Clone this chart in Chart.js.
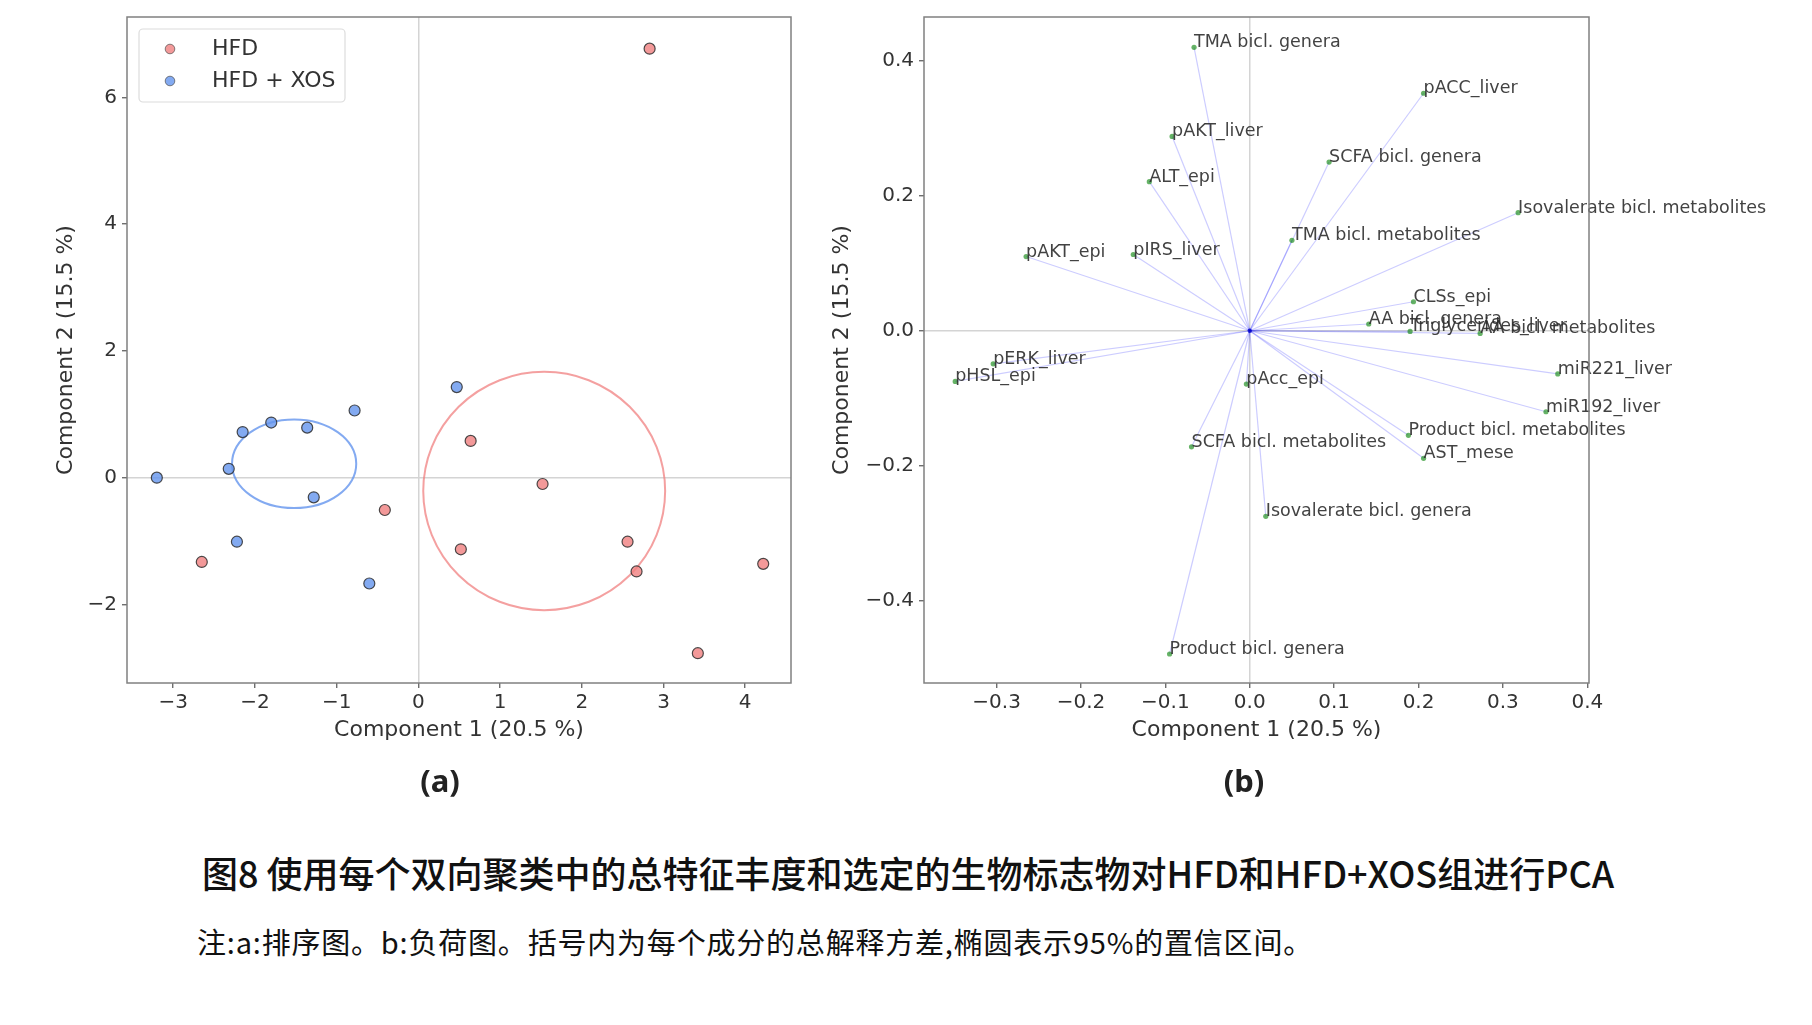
<!DOCTYPE html>
<html>
<head>
<meta charset="utf-8">
<script src="https://cdn.jsdelivr.net/npm/chart.js@4.4.0/dist/chart.umd.min.js"></script>
<style>
  body { margin: 0; background: #fff; width: 1812px; height: 1025px; position: relative; overflow: hidden; }
  canvas { position: absolute; top: 0; }
  #chartA { left: 0; }
  #chartB { left: 820px; }
  .panel { position: absolute; top: 762px; font: bold 31px 'Noto Sans', sans-serif; line-height: 36px; color: #222; transform: translateX(-50%); }
  #title { position: absolute; left: 202px; top: 851px; font: 500 36px 'Noto Sans CJK SC', sans-serif; line-height: 42px; color: #111; white-space: nowrap; }
  #note { position: absolute; left: 197px; top: 923px; font: 400 29px 'Noto Sans CJK SC', sans-serif; letter-spacing: 0.8px; line-height: 36px; color: #111; white-space: nowrap; }
</style>
</head>
<body>
<canvas id="chartA" width="830" height="760"></canvas>
<canvas id="chartB" width="992" height="760"></canvas>
<div class="panel" style="left:440px">(a)</div>
<div class="panel" style="left:1244px">(b)</div>
<div id="title">图8 使用每个双向聚类中的总特征丰度和选定的生物标志物对HFD和HFD+XOS组进行PCA</div>
<div id="note">注:a:排序图。b:负荷图。括号内为每个成分的总解释方差,椭圆表示95%的置信区间。</div>
<script>
// (a) scores
const groups = ['HFD', 'HFD + XOS'];
const hfdX = [2.83, 0.64, 1.52, -0.41, 0.52, 2.56, 2.67, 4.22, 3.42, -2.65];
const hfdY = [6.77, 0.58, -0.10, -0.51, -1.13, -1.01, -1.48, -1.36, -2.77, -1.33];
const xosX = [0.47, -0.78, -1.80, -2.15, -1.36, -2.32, -3.20, -1.28, -2.22, -0.60];
const xosY = [1.43, 1.06, 0.87, 0.72, 0.79, 0.14, 0.00, -0.31, -1.01, -1.67];
// 95% ellipses: centre x, centre y, half width, half height
const hfdEllipse = [1.54, -0.21, 1.48, 1.88];
const xosEllipse = [-1.52, 0.22, 0.76, 0.70];

const xTicksA = [-3, -2, -1, 0, 1, 2, 3, 4];
const xLabelsA = ['\u22123', '\u22122', '\u22121', '0', '1', '2', '3', '4'];
const yTicksA = [-2, 0, 2, 4, 6];
const yLabelsA = ['\u22122', '0', '2', '4', '6'];

// (b) loadings
const loadNames = ['TMA bicl. genera', 'pACC_liver', 'pAKT_liver', 'SCFA bicl. genera', 'ALT_epi',
  'Isovalerate bicl. metabolites', 'TMA bicl. metabolites', 'pAKT_epi', 'pIRS_liver', 'CLSs_epi',
  'AA bicl. genera', 'Triglycerides_liver', 'AA bicl. metabolites', 'miR221_liver', 'miR192_liver',
  'Product bicl. metabolites', 'AST_mese', 'pAcc_epi', 'SCFA bicl. metabolites', 'Isovalerate bicl. genera',
  'Product bicl. genera', 'pERK_liver', 'pHSL_epi'];
const loadPC1 = [-0.066, 0.206, -0.092, 0.094, -0.119, 0.318, 0.050, -0.265, -0.138, 0.194,
  0.141, 0.190, 0.273, 0.365, 0.351, 0.188, 0.206, -0.004, -0.069, 0.019, -0.095, -0.304, -0.349];
const loadPC2 = [0.420, 0.352, 0.288, 0.250, 0.221, 0.175, 0.134, 0.110, 0.113, 0.043,
  0.010, -0.001, -0.004, -0.064, -0.120, -0.155, -0.189, -0.079, -0.172, -0.275, -0.479, -0.049, -0.075];

const xTicksB = [-0.3, -0.2, -0.1, 0, 0.1, 0.2, 0.3, 0.4];
const xLabelsB = ['\u22120.3', '\u22120.2', '\u22120.1', '0.0', '0.1', '0.2', '0.3', '0.4'];
const yTicksB = [-0.4, -0.2, 0, 0.2, 0.4];
const yLabelsB = ['\u22120.4', '\u22120.2', '0.0', '0.2', '0.4'];

Chart.defaults.font.family = "'DejaVu Sans', sans-serif";
Chart.defaults.color = '#333';

const zeroGrid = c => (c.tick && c.tick.value === 0) ? '#d4d4d4' : 'rgba(0,0,0,0)';

function axis(min, max, ticks, labels, title, horizontal) {
  return {
    type: 'linear', min: min, max: max,
    afterBuildTicks: s => { s.ticks = ticks.map(v => ({ value: v })); },
    afterFit: s => { if (horizontal) s.height = 77; },
    ticks: { callback: (v, i) => labels[i], font: { size: 20 }, padding: horizontal ? 3 : 5, autoSkip: false, maxRotation: 0, color: '#333' },
    grid: { color: zeroGrid, lineWidth: 1.5, tickLength: 5, tickColor: '#555', tickWidth: 1.2 },
    border: { display: false },
    title: { display: true, text: title, font: { size: 22 }, color: '#333' }
  };
}

const frame = {
  id: 'frame',
  afterDatasetsDraw(chart) {
    const { ctx, chartArea: a } = chart;
    ctx.save();
    ctx.strokeStyle = '#808080';
    ctx.lineWidth = 1.5;
    ctx.strokeRect(a.left, a.top, a.right - a.left, a.bottom - a.top);
    ctx.restore();
  }
};

const ellipses = {
  id: 'ellipses',
  beforeDatasetsDraw(chart) {
    const { ctx, scales: { x, y } } = chart;
    [[hfdEllipse, 'rgba(240,128,128,0.75)'], [xosEllipse, 'rgba(100,149,237,0.8)']].forEach(([e, col]) => {
      const cx = x.getPixelForValue(e[0]), cy = y.getPixelForValue(e[1]);
      const rx = Math.abs(x.getPixelForValue(e[0] + e[2]) - cx);
      const ry = Math.abs(y.getPixelForValue(e[1] + e[3]) - cy);
      ctx.save();
      ctx.beginPath();
      ctx.ellipse(cx, cy, rx, ry, 0, 0, Math.PI * 2);
      ctx.strokeStyle = col;
      ctx.lineWidth = 2;
      ctx.stroke();
      ctx.restore();
    });
  }
};

const legendBox = {
  id: 'legendBox',
  afterDraw(chart) {
    const { ctx, chartArea: a } = chart;
    const bx = a.left + 12, by = a.top + 12, bw = 206, bh = 73;
    ctx.save();
    ctx.beginPath();
    ctx.roundRect(bx, by, bw, bh, 4);
    ctx.fillStyle = 'rgba(255,255,255,0.85)';
    ctx.fill();
    ctx.strokeStyle = '#dcdcdc';
    ctx.lineWidth = 1.2;
    ctx.stroke();
    chart.data.datasets.forEach((ds, i) => {
      const cy = by + 20 + i * 32;
      ctx.beginPath();
      ctx.arc(a.left + 43, cy, 4.8, 0, Math.PI * 2);
      ctx.fillStyle = ds.backgroundColor;
      ctx.fill();
      ctx.strokeStyle = 'rgba(80,80,80,0.7)';
      ctx.lineWidth = 1;
      ctx.stroke();
      ctx.fillStyle = '#333';
      ctx.font = "22px 'DejaVu Sans'";
      ctx.textBaseline = 'middle';
      ctx.fillText(ds.label, a.left + 85, cy);
    });
    ctx.restore();
  }
};

const xA = axis(-3.565, 4.56, xTicksA, xLabelsA, 'Component 1 (20.5 %)', true);
xA.title.padding = { top: 0, bottom: 16.5 };
const yA = axis(-3.24, 7.27, yTicksA, yLabelsA, 'Component 2 (15.5 %)', false);
yA.afterFit = s => { s.width = 127; };
yA.title.padding = { top: 52.8, bottom: 0 };

new Chart(document.getElementById('chartA'), {
  type: 'scatter',
  data: {
    datasets: [
      { label: groups[0], data: hfdX.map((v, i) => ({ x: v, y: hfdY[i] })),
        backgroundColor: 'rgba(240,128,128,0.8)', borderColor: 'rgba(45,45,45,0.85)', borderWidth: 1.2, pointRadius: 5.5 },
      { label: groups[1], data: xosX.map((v, i) => ({ x: v, y: xosY[i] })),
        backgroundColor: 'rgba(100,149,237,0.8)', borderColor: 'rgba(45,45,45,0.85)', borderWidth: 1.2, pointRadius: 5.5 }
    ]
  },
  options: {
    responsive: false, animation: false,
    layout: { padding: { top: 17, right: 39, left: 0, bottom: 0 } },
    plugins: { legend: { display: false }, tooltip: { enabled: false } },
    scales: { x: xA, y: yA }
  },
  plugins: [ellipses, frame, legendBox]
});

const loadings = {
  id: 'loadings',
  beforeDatasetsDraw(chart) {
    const { ctx, scales: { x, y } } = chart;
    const ox = x.getPixelForValue(0), oy = y.getPixelForValue(0);
    ctx.save();
    ctx.strokeStyle = 'rgba(0,0,255,0.2)';
    ctx.lineWidth = 1.2;
    loadPC1.forEach((v, i) => {
      ctx.beginPath();
      ctx.moveTo(ox, oy);
      ctx.lineTo(x.getPixelForValue(v), y.getPixelForValue(loadPC2[i]));
      ctx.stroke();
    });
    ctx.restore();
  },
  afterDatasetsDraw(chart) {
    const { ctx, scales: { x, y } } = chart;
    ctx.save();
    ctx.fillStyle = 'rgba(45,45,45,0.9)';
    ctx.font = "17.5px 'DejaVu Sans'";
    ctx.textAlign = 'left';
    ctx.textBaseline = 'alphabetic';
    loadNames.forEach((n, i) => {
      ctx.fillText(n, x.getPixelForValue(loadPC1[i]), y.getPixelForValue(loadPC2[i]));
    });
    ctx.restore();
  }
};

const xB = axis(-0.386, 0.402, xTicksB, xLabelsB, 'Component 1 (20.5 %)', true);
xB.title.padding = { top: 0, bottom: 16.5 };
const yB = axis(-0.522, 0.465, yTicksB, yLabelsB, 'Component 2 (15.5 %)', false);
yB.afterFit = s => { s.width = 104; };
yB.title.padding = { top: 8.8, bottom: 0 };

new Chart(document.getElementById('chartB'), {
  type: 'scatter',
  data: {
    datasets: [
      { label: 'loadings', data: loadPC1.map((v, i) => ({ x: v, y: loadPC2[i] })),
        backgroundColor: 'rgba(0,128,0,0.6)', borderWidth: 0, pointRadius: 2.6 },
      { label: 'origin', data: [{ x: 0, y: 0 }],
        backgroundColor: 'rgba(0,0,200,0.8)', borderWidth: 0, pointRadius: 2.2 }
    ]
  },
  options: {
    responsive: false, animation: false,
    layout: { padding: { top: 17, right: 223, left: 0, bottom: 0 } },
    plugins: { legend: { display: false }, tooltip: { enabled: false } },
    scales: { x: xB, y: yB }
  },
  plugins: [loadings, frame]
});
</script>
</body>
</html>
